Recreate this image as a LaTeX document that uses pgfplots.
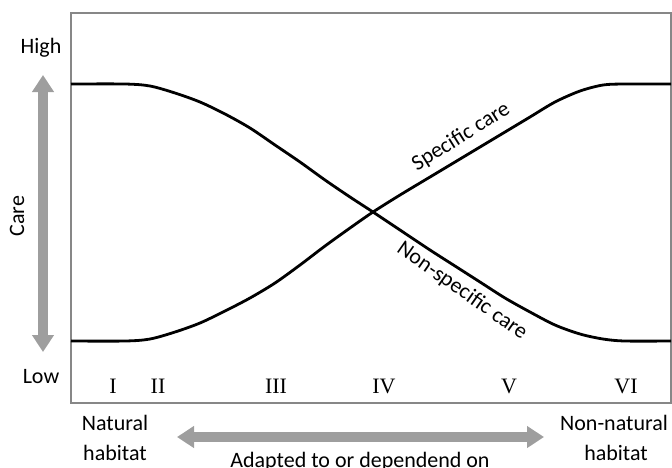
\documentclass[border=0pt]{standalone}
\usepackage{pgfplots}
\pgfplotsset{compat=1.18}
\usepackage{fontspec}
\setmainfont{Carlito}
\newfontfamily\romanfont{Liberation Serif}
\usetikzlibrary{arrows.meta}
\definecolor{arrowgray}{RGB}{158,158,158}
\definecolor{framegray}{RGB}{135,135,135}
\begin{document}
\begin{tikzpicture}[x=0.5pt,y=-0.5pt]
\useasboundingbox (0,0) rectangle (672,467);
\begin{axis}[at={(35.5pt,-6.5pt)}, anchor=north west,
  width=300pt, height=195pt, scale only axis,
  xmin=71, xmax=671, ymin=13, ymax=403, y dir=reverse,
  ticks=none, axis line style={draw=framegray, line width=0.8pt},
  clip=false]
% Non-specific care
\addplot[black, line width=1.4pt, smooth, tension=0.5] coordinates {
 (71,84) (125,84) (150,86) (175,93) (200,102) (225,114) (250,128) (275,145)
 (300,162) (325,180) (350,197) (373,212) (400,230) (430,250) (455,266)
 (480,282) (505,298) (530,312) (555,325) (580,334) (603,339) (625,341) (671,341)};
% Specific care
\addplot[black, line width=1.4pt, smooth, tension=0.5] coordinates {
 (71,341) (125,341) (150,339) (175,332) (200,323) (225,311) (250,298) (275,283)
 (300,265) (325,246) (350,228) (373,212) (400,195) (430,177) (455,162)
 (480,147) (505,132) (530,117) (555,102) (580,91) (603,85) (625,84) (671,84)};
\end{axis}
\fontsize{11}{13}\selectfont
\draw[line width=5pt, arrowgray, {Triangle[length=8.5pt,width=10.5pt]}-{Triangle[length=8.5pt,width=10.5pt]}] (43,75) -- (43,352);
\draw[line width=5pt, arrowgray, {Triangle[length=8.5pt,width=10.5pt]}-{Triangle[length=8.5pt,width=10.5pt]}] (177,437) -- (544,437);
\node[anchor=base] at (41,53) {High};
\node[anchor=base] at (41,383) {Low};
\node[rotate=90] at (17,216) {Care};
\node[anchor=base] at (115,430) {Natural};
\node[anchor=base] at (115,460) {habitat};
\node[anchor=base] at (614,430) {Non-natural};
\node[anchor=base] at (616,460) {habitat};
\node[anchor=base] at (360,467) {Adapted to or dependend on};
\node[rotate=32] at (461,137) {Specific care};
\node[rotate=-35] at (462,291) {Non-specific care};
\foreach \x/\t in {113/I,158/II,276/III,384/IV,509/V,626/VI}
  \node[anchor=base, font=\romanfont\fontsize{11}{13}\selectfont] at (\x,393) {\t};
\end{tikzpicture}
\end{document}
